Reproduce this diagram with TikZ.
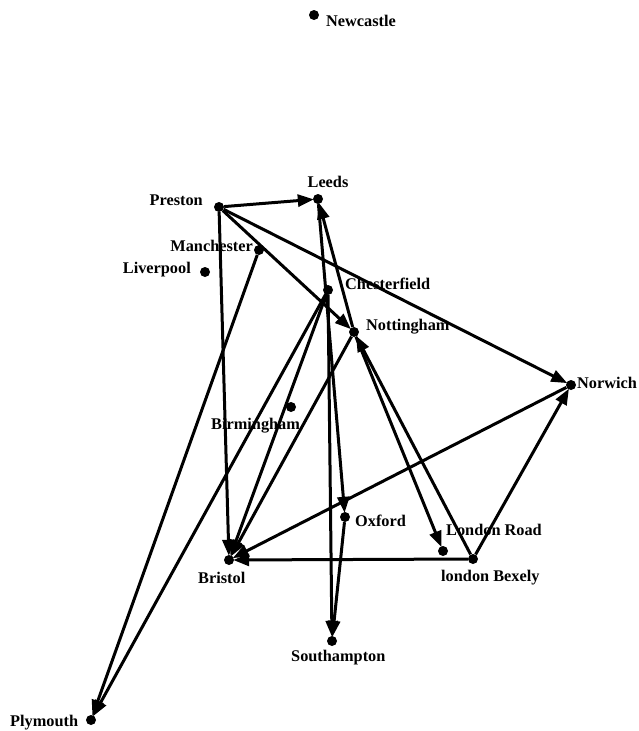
\documentclass[tikz,border=0pt]{standalone}
\usepackage{fontspec}
\setmainfont{Liberation Serif}
\usetikzlibrary{arrows.meta}
\begin{document}
\begin{tikzpicture}[x=1pt,y=-1pt,
  city/.style={circle,fill=black,inner sep=0pt,minimum size=10pt},
  lbl/.style={font=\fontsize{16.3}{18}\selectfont\bfseries,inner sep=0pt},
  edge/.style={line width=3pt,-{Triangle[length=16pt,width=12pt]},shorten >=-1pt}]
\useasboundingbox (0,0) rectangle (639,731);
% cities
\node[city] (newcastle) at (314,15) {};
\node[city] (leeds) at (318,199) {};
\node[city] (preston) at (219,207) {};
\node[city] (manchester) at (259,250) {};
\node[city] (liverpool) at (205,272) {};
\node[city] (chesterfield) at (328,290) {};
\node[city] (nottingham) at (354,332) {};
\node[city] (norwich) at (571,385) {};
\node[city] (birmingham) at (291,407) {};
\node[city] (oxford) at (345,517) {};
\node[city] (londonroad) at (443,551) {};
\node[city] (bexely) at (473,559) {};
\node[city] (bristol) at (229,560) {};
\node[city] (southampton) at (332,641) {};
\node[city] (plymouth) at (91,720) {};
% labels
\node[lbl,anchor=west] (lnewcastle) at (326,21) {Newcastle};
\node[lbl] (lleeds) at (328,182) {Leeds};
\node[lbl,anchor=east] (lpreston) at (203,200) {Preston};
\node[lbl,anchor=east] (lmanchester) at (253,246) {Manchester};
\node[lbl,anchor=east] (lliverpool) at (191,270) {Liverpool};
\node[lbl,anchor=west] (lchesterfield) at (345,284) {Chesterfield};
\node[lbl,anchor=west] (lnottingham) at (366,327) {Nottingham};
\node[lbl,anchor=west] (lnorwich) at (577,383) {Norwich};
\node[lbl,anchor=west] (lbirmingham) at (211,426) {Birmingham};
\node[lbl,anchor=west] (loxford) at (355,521) {Oxford};
\node[lbl,anchor=west] (llondonroad) at (446,530) {London Road};
\node[lbl,anchor=west] (lbexely) at (441,578) {london Bexely};
\node[lbl,anchor=west] (lbristol) at (198,578) {Bristol};
\node[lbl,anchor=west] (lsouthampton) at (291,658) {Southampton};
\node[lbl,anchor=west] (lplymouth) at (10,723) {Plymouth};
% connectors
\draw[edge] (preston) -- (leeds);
\draw[edge] (preston) -- (bristol);
\draw[edge] (preston) -- (nottingham);
\draw[edge] (preston) -- (norwich);
\draw[edge] (manchester) -- (plymouth);
\draw[edge] (chesterfield) -- (plymouth);
\draw[edge] (chesterfield) -- (bristol);
\draw[edge] (nottingham) -- (bristol);
\draw[edge] (chesterfield) -- (southampton);
\draw[edge] (leeds) -- (oxford);
\draw[edge] (oxford) -- (southampton);
\draw[edge] (nottingham) -- (leeds);
\draw[edge] (nottingham) -- (londonroad);
\draw[edge] (bexely) -- (nottingham);
\draw[edge] (bexely) -- (norwich);
\draw[edge] (bexely) -- (bristol);
\draw[edge] (norwich) -- (bristol);
\end{tikzpicture}
\end{document}
